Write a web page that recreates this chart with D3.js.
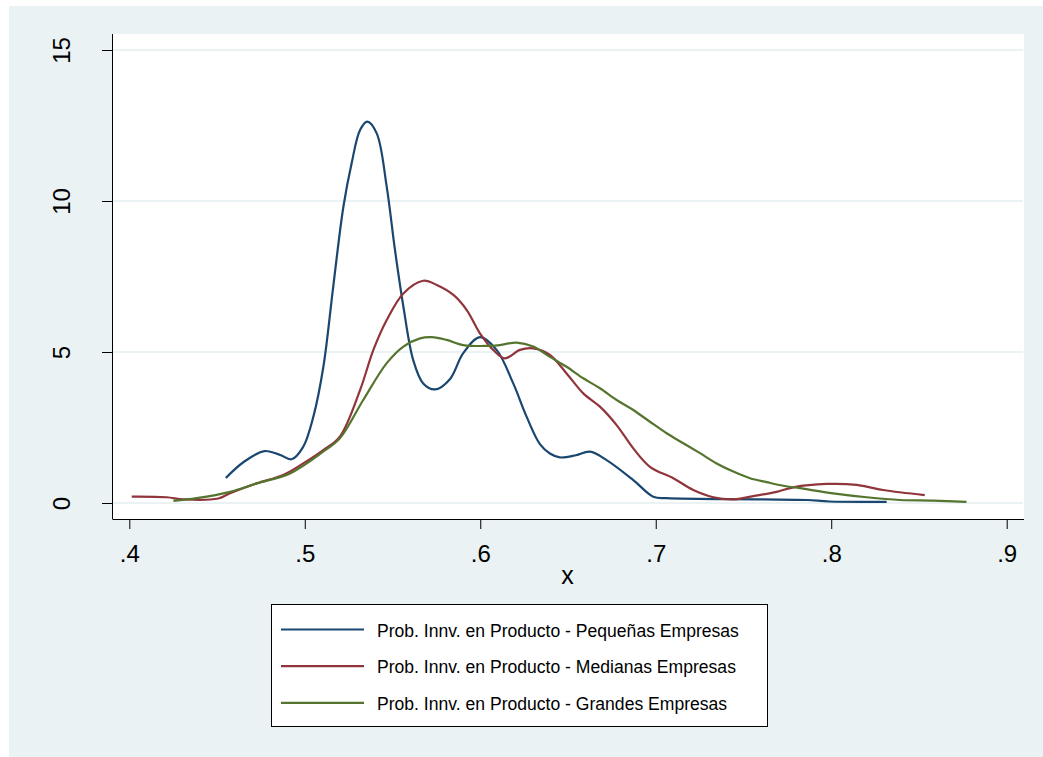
<!DOCTYPE html>
<html>
<head>
<meta charset="utf-8">
<script src="https://cdn.jsdelivr.net/npm/d3@7"></script>
<style>
  body { margin: 0; background: #fff; }
  text { font-family: "Liberation Sans", Arial, sans-serif; }
</style>
</head>
<body>
<div id="chart"></div>
<script>
// kernel density estimates: [x, density]
var pequenas = [[0.455,0.83],[0.465,1.35],[0.477,1.72],[0.486,1.59],[0.4925,1.45],[0.499,1.85],[0.5049,2.86],
  [0.5106,4.51],[0.5162,7.16],[0.522,9.81],[0.5267,11.25],[0.5315,12.35],[0.5356,12.63],[0.541,12.24],
  [0.5467,10.47],[0.5514,8.38],[0.5562,6.5],[0.5618,4.73],[0.5675,3.96],[0.5742,3.76],[0.5827,4.1],
  [0.5903,4.96],[0.5998,5.49],[0.6093,5.07],[0.6188,3.96],[0.6264,2.86],[0.634,1.95],[0.6397,1.64],
  [0.6454,1.51],[0.6545,1.58],[0.6625,1.70],[0.672,1.42],[0.6872,0.76],[0.6986,0.21],[0.7062,0.16],
  [0.7594,0.12],[0.786,0.1],[0.799,0.05],[0.8316,0.04]];

var medianas = [[0.4014,0.21],[0.4213,0.19],[0.4308,0.12],[0.4507,0.15],[0.4574,0.32],[0.4726,0.65],
  [0.4877,0.93],[0.4991,1.31],[0.5105,1.75],[0.52,2.2],[0.5315,3.74],[0.5391,5.07],[0.5467,6.06],
  [0.5562,6.94],[0.5675,7.36],[0.5752,7.22],[0.5847,6.89],[0.5923,6.39],[0.5998,5.62],[0.6074,5.07],
  [0.6141,4.79],[0.6226,5.07],[0.6302,5.12],[0.6397,4.9],[0.6492,4.29],[0.6587,3.63],[0.6682,3.19],
  [0.6777,2.58],[0.6872,1.81],[0.6967,1.2],[0.71,0.82],[0.7214,0.43],[0.7328,0.19],[0.7442,0.12],
  [0.7556,0.23],[0.7689,0.37],[0.7784,0.52],[0.7974,0.63],[0.8145,0.6],[0.8296,0.43],[0.8533,0.26]];

var grandes = [[0.4251,0.07],[0.4384,0.16],[0.4574,0.37],[0.4726,0.65],[0.4916,0.98],[0.5105,1.7],
  [0.52,2.14],[0.5333,3.41],[0.5467,4.63],[0.5562,5.18],[0.5657,5.45],[0.5723,5.49],[0.5808,5.4],
  [0.5903,5.23],[0.6036,5.2],[0.6112,5.23],[0.6207,5.31],[0.6302,5.18],[0.6397,4.84],[0.6492,4.51],
  [0.6587,4.13],[0.6682,3.8],[0.6777,3.41],[0.6872,3.08],[0.6967,2.69],[0.7062,2.31],[0.7157,1.98],
  [0.7252,1.65],[0.7347,1.31],[0.7442,1.04],[0.7537,0.82],[0.7632,0.69],[0.7727,0.57],[0.7822,0.49],
  [0.8011,0.32],[0.8202,0.19],[0.8392,0.1],[0.8581,0.08],[0.8771,0.04]];

var seriesNames = ["Prob. Innv. en Producto - Pequeñas Empresas",
                   "Prob. Innv. en Producto - Medianas Empresas",
                   "Prob. Innv. en Producto - Grandes Empresas"];
var seriesColors = ["#1a476f", "#90353b", "#55752f"];
var xTicks = [0.4, 0.5, 0.6, 0.7, 0.8, 0.9];
var yTicks = [0, 5, 10, 15];

var W = 1043, H = 757;
var svg = d3.select("#chart").append("svg").attr("width", W).attr("height", H);

// outer graph region
svg.append("rect").attr("x", 9).attr("y", 6).attr("width", W - 9).attr("height", H - 6)
   .attr("fill", "#eaf2f3");

// plot region
var pLeft = 113, pRight = 1024, pTop = 34, pBottom = 519;
svg.append("rect").attr("x", pLeft).attr("y", pTop).attr("width", pRight - pLeft).attr("height", pBottom - pTop)
   .attr("fill", "#fff");

var x = d3.scaleLinear().domain([0.4, 0.9]).range([129.3, 1006.7]);
var y = d3.scaleLinear().domain([0, 15]).range([503, 50]);

// gridlines
svg.append("g").selectAll("line").data(yTicks).enter().append("line")
   .attr("x1", pLeft).attr("x2", pRight - 1)
   .attr("y1", function(d){ return y(d); }).attr("y2", function(d){ return y(d); })
   .attr("stroke", "#eaf2f3").attr("stroke-width", 2);

// axes
var fmtX = function(d){ return d3.format(".1f")(d).replace(/^0/, ""); };
var xAxis = svg.append("g").attr("transform", "translate(0," + pBottom + ")")
   .call(d3.axisBottom(x).tickValues(xTicks).tickFormat(fmtX).tickSize(10).tickPadding(16).tickSizeOuter(0));
xAxis.select(".domain").attr("d", "M" + pLeft + ",0.5H" + pRight);
xAxis.selectAll("text").style("font-size", "24px").attr("fill", "#000");

var yAxis = svg.append("g").attr("transform", "translate(" + pLeft + ",0)")
   .call(d3.axisLeft(y).tickValues(yTicks).tickSize(11).tickSizeOuter(0));
yAxis.select(".domain").attr("d", "M-0.5," + pTop + "V" + (pBottom + 0.5));
yAxis.selectAll("text").remove();
yAxis.selectAll(".tick").append("text")
   .attr("transform", "translate(-43,0) rotate(-90)")
   .attr("text-anchor", "middle")
   .attr("fill", "#000")
   .style("font-size", "24px")
   .text(function(d){ return d; });

svg.append("text").attr("x", 567.5).attr("y", 584).attr("text-anchor", "middle")
   .style("font-size", "25px").text("x");

// density curves
var line = d3.line()
   .x(function(d){ return x(d[0]); })
   .y(function(d){ return y(d[1]); })
   .curve(d3.curveCatmullRom.alpha(0.5));

[pequenas, medianas, grandes].forEach(function(s, i){
   svg.append("path").datum(s).attr("d", line)
      .attr("fill", "none").attr("stroke", seriesColors[i]).attr("stroke-width", 2.2);
});

// legend
var lg = svg.append("g");
lg.append("rect").attr("x", 271.5).attr("y", 604.5).attr("width", 496).attr("height", 122)
  .attr("fill", "#fff").attr("stroke", "#000").attr("stroke-width", 1);
seriesNames.forEach(function(n, i){
   var ly = 629.5 + i * 36.7;
   lg.append("line").attr("x1", 281).attr("x2", 364).attr("y1", ly).attr("y2", ly)
     .attr("stroke", seriesColors[i]).attr("stroke-width", 2.2);
   lg.append("text").attr("transform", "translate(377," + (ly + 7) + ") scale(0.95,1)")
     .style("font-size", "18.5px").text(n);
});
</script>
</body>
</html>
